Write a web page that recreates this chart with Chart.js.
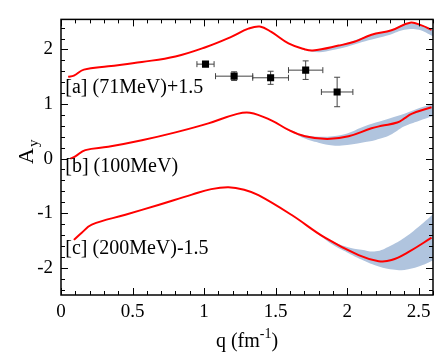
<!DOCTYPE html>
<html>
<head>
<meta charset="utf-8">
<script src="https://cdn.jsdelivr.net/npm/chart.js@4"></script>
<style>
  html, body { margin: 0; padding: 0; background: #fff; }
</style>
</head>
<body>
<canvas id="chart" width="443" height="354"></canvas>
<script>
// curves (q in fm^-1, A_y with offsets already applied)
const curveAq = [0.05, 0.09, 0.16, 0.33, 0.565, 0.80, 1.01, 1.19, 1.31, 1.39, 1.47, 1.59, 1.705, 1.76, 1.94, 2.05, 2.17, 2.31, 2.44, 2.52, 2.59];
const curveA  = [1.50, 1.52, 1.63, 1.69, 1.77, 1.87, 2.04, 2.23, 2.38, 2.42, 2.32, 2.11, 2.00, 1.98, 2.07, 2.14, 2.27, 2.35, 2.49, 2.44, 2.36];

const curveBq = [0.065, 0.10, 0.17, 0.33, 0.565, 0.80, 1.03, 1.22, 1.32, 1.47, 1.59, 1.705, 1.86, 2.01, 2.17, 2.24, 2.35, 2.40, 2.45, 2.59];
const curveB  = [0.00, 0.04, 0.155, 0.215, 0.335, 0.48, 0.645, 0.81, 0.84, 0.70, 0.525, 0.41, 0.36, 0.41, 0.555, 0.60, 0.66, 0.735, 0.82, 0.94];

const curveCq = [0.09, 0.145, 0.215, 0.45, 0.68, 0.915, 1.05, 1.17, 1.28, 1.38, 1.61, 1.845, 2.08, 2.22, 2.31, 2.43, 2.59];
const curveC  = [-1.49, -1.36, -1.21, -1.03, -0.85, -0.66, -0.56, -0.525, -0.57, -0.67, -1.03, -1.45, -1.77, -1.88, -1.86, -1.71, -1.45];

// uncertainty bands
const bandQ  = [1.6, 1.7, 1.8, 1.9, 2.0, 2.1, 2.2, 2.3, 2.4, 2.5, 2.6];
const bandAhi = [2.10, 2.01, 1.99, 2.05, 2.12, 2.21, 2.29, 2.35, 2.46, 2.46, 2.36];
const bandAlo = [2.10, 2.00, 1.95, 1.99, 2.05, 2.13, 2.20, 2.27, 2.36, 2.36, 2.24];
const bandBhi = [0.53, 0.43, 0.40, 0.41, 0.46, 0.57, 0.66, 0.74, 0.82, 0.92, 1.01];
const bandBlo = [0.51, 0.37, 0.29, 0.24, 0.25, 0.29, 0.34, 0.43, 0.59, 0.69, 0.78];
const bandCq  = [1.7, 1.8, 1.9, 2.0, 2.1, 2.2, 2.3, 2.4, 2.5, 2.6];
const bandChi = [-1.20, -1.37, -1.52, -1.62, -1.67, -1.70, -1.60, -1.45, -1.25, -1.02];
const bandClo = [-1.20, -1.39, -1.58, -1.72, -1.85, -1.96, -2.03, -2.04, -1.98, -1.87];

// measured points (71 MeV, +1.5)
const dataQ  = [1.01, 1.21, 1.465, 1.71, 1.93];
const dataA  = [1.73, 1.51, 1.48, 1.62, 1.22];
const dataDq = [0.06, 0.13, 0.125, 0.12, 0.11];
const dataDa = [0.03, 0.08, 0.12, 0.17, 0.27];

// labels: [text, q, baseline value]
const labels = [
    ['[a] (71MeV)+1.5', 0.03, 1.20],
    ['[b] (100MeV)', 0.03, -0.25],
    ['[c] (200MeV)-1.5', 0.03, -1.74]
];

const SERIF = "'Liberation Serif', 'Times New Roman', serif";
const BAND = 'rgb(176, 196, 222)';

const pts = (qs, vs) => qs.map((q, i) => ({ x: q, y: vs[i] }));
const fmt = (v) => String(+v.toFixed(2));

function line(qs, vs) {
    return {
        data: pts(qs, vs), showLine: true, borderColor: '#ff0000', borderWidth: 2,
        pointRadius: 0, tension: 0.4, fill: false, order: 1
    };
}

function band(qs, hi, lo) {
    return [
        { data: pts(qs, hi), showLine: true, borderWidth: 0, pointRadius: 0,
          tension: 0.4, fill: false, order: 2 },
        { data: pts(qs, lo), showLine: true, borderWidth: 0, pointRadius: 0,
          tension: 0.4, fill: '-1', backgroundColor: BAND, order: 2 }
    ];
}

const errorBars = {
    id: 'errorBars',
    beforeDatasetsDraw(chart) {
        const { ctx, scales: { x, y } } = chart;
        ctx.save();
        ctx.strokeStyle = '#444';
        ctx.lineWidth = 1;
        ctx.beginPath();
        dataQ.forEach((q, i) => {
            const px = x.getPixelForValue(q), py = y.getPixelForValue(dataA[i]);
            const x0 = x.getPixelForValue(q - dataDq[i]), x1 = x.getPixelForValue(q + dataDq[i]);
            const y0 = y.getPixelForValue(dataA[i] - dataDa[i]), y1 = y.getPixelForValue(dataA[i] + dataDa[i]);
            ctx.moveTo(x0, py); ctx.lineTo(x1, py);
            ctx.moveTo(x0, py - 3); ctx.lineTo(x0, py + 3);
            ctx.moveTo(x1, py - 3); ctx.lineTo(x1, py + 3);
            ctx.moveTo(px, y0); ctx.lineTo(px, y1);
            ctx.moveTo(px - 3, y0); ctx.lineTo(px + 3, y0);
            ctx.moveTo(px - 3, y1); ctx.lineTo(px + 3, y1);
        });
        ctx.stroke();
        ctx.restore();
    }
};

const frame = {
    id: 'frame',
    afterDatasetsDraw(chart) {
        const { ctx, chartArea: a, scales: { x, y } } = chart;
        ctx.save();
        ctx.strokeStyle = '#000';
        ctx.lineWidth = 1;
        ctx.beginPath();
        for (let i = 0; i <= 26; i++) {
            const px = Math.round(x.getPixelForValue(i / 10)) + 0.5;
            const len = i % 5 === 0 ? 7 : 4;
            ctx.moveTo(px, a.bottom); ctx.lineTo(px, a.bottom - len);
            ctx.moveTo(px, a.top); ctx.lineTo(px, a.top + len);
        }
        for (let i = -12; i <= 12; i++) {
            const py = Math.round(y.getPixelForValue(i / 5)) + 0.5;
            const len = i % 5 === 0 ? 7 : 4;
            ctx.moveTo(a.left, py); ctx.lineTo(a.left + len, py);
            ctx.moveTo(a.right, py); ctx.lineTo(a.right - len, py);
        }
        ctx.stroke();
        ctx.lineWidth = 1.5;
        ctx.strokeRect(a.left, a.top, a.right - a.left, a.bottom - a.top);

        // curve labels
        ctx.fillStyle = '#000';
        ctx.font = '20px ' + SERIF;
        ctx.textAlign = 'left';
        ctx.textBaseline = 'alphabetic';
        labels.forEach(([t, q, v]) => ctx.fillText(t, x.getPixelForValue(q), y.getPixelForValue(v)));

        // x title: q (fm^-1)
        const cx = (a.left + a.right) / 2;
        const p1 = 'q (fm', p3 = ')';
        ctx.font = '14px ' + SERIF;
        const w2 = ctx.measureText('-1').width;
        ctx.font = '20px ' + SERIF;
        const w1 = ctx.measureText(p1).width, w3 = ctx.measureText(p3).width;
        const sx = cx - (w1 + w2 + w3) / 2;
        const by = 347;
        ctx.fillText(p1, sx, by);
        ctx.font = '14px ' + SERIF;
        ctx.fillText('-1', sx + w1, by - 9);
        ctx.font = '20px ' + SERIF;
        ctx.fillText(p3, sx + w1 + w2, by);

        // y title: A_y
        ctx.translate(33, 164);
        ctx.rotate(-Math.PI / 2);
        ctx.font = '22px ' + SERIF;
        ctx.fillText('A', 0, 0);
        const wa = ctx.measureText('A').width;
        ctx.font = '15px ' + SERIF;
        ctx.fillText('y', wa + 1, 5);
        ctx.restore();
    }
};

new Chart(document.getElementById('chart'), {
    type: 'scatter',
    data: {
        datasets: [
            { data: pts(dataQ, dataA), pointStyle: 'rect', pointRadius: 5, backgroundColor: '#000',
              borderColor: '#000', borderWidth: 0, order: 0 },
            line(curveAq, curveA),
            line(curveBq, curveB),
            line(curveCq, curveC),
            ...band(bandQ, bandAhi, bandAlo),
            ...band(bandQ, bandBhi, bandBlo),
            ...band(bandCq, bandChi, bandClo)
        ]
    },
    options: {
        responsive: false,
        animation: false,
        devicePixelRatio: 1,
        layout: { padding: { top: 14, right: 10, left: 0, bottom: 0 } },
        plugins: { legend: { display: false }, tooltip: { enabled: false } },
        scales: {
            x: {
                type: 'linear', min: 0, max: 2.6,
                grid: { display: false, drawTicks: false },
                border: { display: false },
                ticks: { stepSize: 0.5, includeBounds: false, color: '#000', padding: 6,
                         font: { family: SERIF, size: 19 }, maxRotation: 0, callback: fmt },
                afterFit: (s) => { s.height = 59; }
            },
            y: {
                min: -2.5, max: 2.55,
                grid: { display: false, drawTicks: false },
                border: { display: false },
                ticks: { stepSize: 1, includeBounds: false, color: '#000', padding: 8,
                         font: { family: SERIF, size: 19 }, autoSkip: false, callback: fmt },
                afterFit: (s) => { s.width = 61; }
            }
        }
    },
    plugins: [errorBars, frame]
});
</script>
</body>
</html>
